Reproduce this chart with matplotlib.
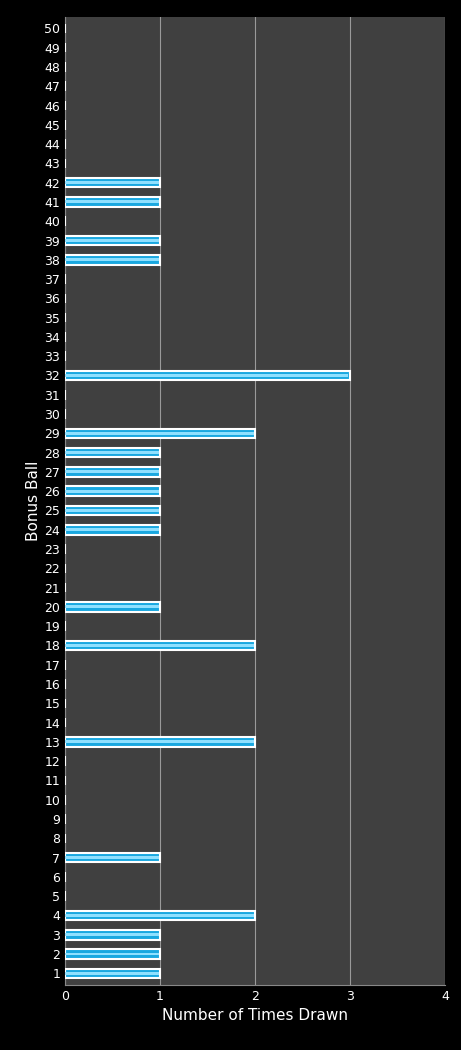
import matplotlib
matplotlib.use("Agg")
import matplotlib.pyplot as plt

balls = list(range(1, 51))
drawn = {1:1,2:1,3:1,4:2,7:1,13:2,18:2,20:1,24:1,25:1,26:1,27:1,28:1,29:2,32:3,38:1,39:1,41:1,42:1}
counts = [drawn.get(b, 0) for b in balls]
xticks = [0, 1, 2, 3, 4]

fig = plt.figure(figsize=(4.61, 10.5), dpi=100, facecolor="black")
ax = fig.add_axes([0.141, 0.062, 0.824, 0.922])
ax.set_facecolor("#404040")
ax.barh(balls, counts, height=0.5, color="#1aa8e0", edgecolor="white", linewidth=1.5, zorder=3)
ax.barh(balls, [c * 0.995 for c in counts], height=0.15, left=0, color="#8fe0ff", linewidth=0, zorder=4,
        align="center")
ax.set_xlim(0, 4)
ax.set_ylim(0.4, 50.6)
ax.set_xticks(xticks)
ax.set_yticks(balls)
ax.set_yticklabels([str(b) for b in balls])
ax.grid(axis="x", color="#9a9a9a", linewidth=0.8, zorder=1)
for s in ax.spines.values():
    s.set_visible(False)
ax.spines["left"].set_visible(True); ax.spines["left"].set_color("#888888")
ax.spines["bottom"].set_visible(True); ax.spines["bottom"].set_color("#888888")
ax.tick_params(colors="white", labelsize=9, length=0)
ax.set_xlabel("Number of Times Drawn", color="white", fontsize=11)
ax.set_ylabel("Bonus Ball", color="white", fontsize=11, labelpad=2)
fig.savefig("out.png", dpi=100, facecolor="black")
